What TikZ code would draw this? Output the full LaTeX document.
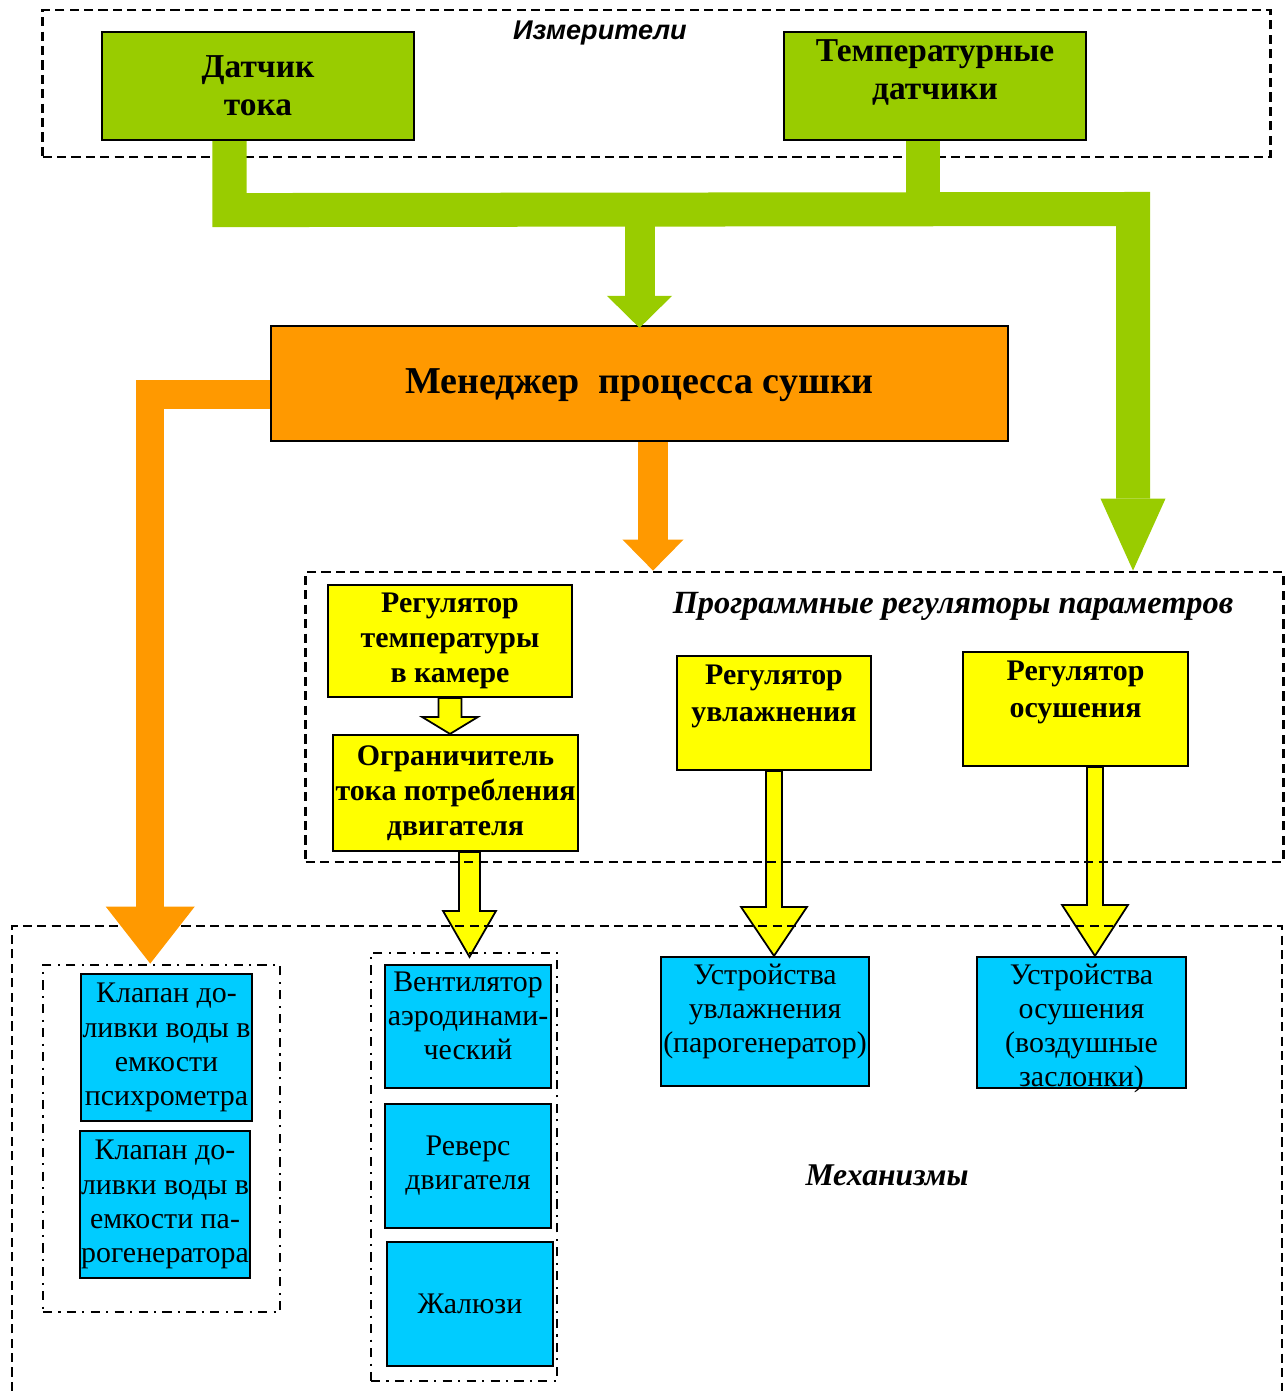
\documentclass[tikz,border=0pt]{standalone}
\usepackage{fontspec}
\setmainfont{Liberation Serif}
\setsansfont{Liberation Sans}
\usepackage{xcolor}
\usepackage{tikz}
\usetikzlibrary{arrows.meta}
\usetikzlibrary{calc}
\usetikzlibrary{backgrounds}
\definecolor{sensgreen}{HTML}{99CC00}
\definecolor{mgrorange}{HTML}{FF9900}
\definecolor{regyellow}{HTML}{FFFF00}
\definecolor{mechblue}{HTML}{00CCFF}
\tikzset{
    box/.style = {draw=black, line width=0.6pt, align=center, inner sep=0pt},
    green_box/.style = {box, fill=sensgreen, font=\fontsize{9.5}{10.8}\selectfont\bfseries},
    orange_box/.style = {box, fill=mgrorange, font=\fontsize{10.8}{13}\selectfont\bfseries},
    yellow_box/.style = {box, fill=regyellow, font=\fontsize{8.5}{10}\selectfont\bfseries},
    blue_box/.style = {box, fill=mechblue, font=\fontsize{8.5}{9.7}\selectfont},
    green_top/.style = {anchor=north, align=center, inner sep=2.4pt, font=\fontsize{9.5}{10.8}\selectfont\bfseries},
    yellow_top/.style = {anchor=north, align=center, inner sep=2.6pt, font=\fontsize{8.5}{10.6}\selectfont\bfseries},
    blue_top/.style = {anchor=north, align=center, inner sep=2pt, font=\fontsize{8.5}{9.7}\selectfont}
}
\tikzset{
    frame/.style = {draw=black, line width=0.75pt, dash pattern=on 2.6pt off 1.5pt, inner sep=0pt},
    dashdot_frame/.style = {draw=black, line width=0.75pt, dash pattern=on 2.6pt off 1.8pt on 0.6pt off 1.8pt, inner sep=0pt},
    meas_title/.style = {inner sep=0pt, font=\fontsize{7.7}{9}\selectfont\sffamily\bfseries\itshape},
    group_title/.style = {inner sep=0pt, font=\fontsize{9.2}{11}\selectfont\bfseries\itshape},
    green_flow/.style = {draw=sensgreen, line width=3.4mm, line join=miter},
    orange_flow/.style = {draw=mgrorange, line width=2.8mm, line join=miter},
    yellow_flow/.style = {draw=black, fill=regyellow, line width=0.5pt, line join=miter}
}
% block arrow pointing down: start, tip, stem half width, head half width, head length
\newcommand{\yarrow}[5]{%
    \draw[yellow_flow] let \p1=(#1), \p2=(#2) in
        (\x1-#3,\y1) -- (\x1-#3,\y2+#5) -- (\x1-#4,\y2+#5) -- (\x1,\y2)
        -- (\x1+#4,\y2+#5) -- (\x1+#3,\y2+#5) -- (\x1+#3,\y1) -- cycle;}

\begin{document}
\begin{tikzpicture}[x=0.01cm, y=-0.01cm]
    \useasboundingbox (0,0) rectangle (1286,1391);

    % frames
    \node[frame, minimum width=12.27cm, minimum height=1.47cm] (meas) at (656.5,83.5) {};
    \node[frame, minimum width=9.77cm, minimum height=2.90cm] (regs) at (794.5,717) {};
    \draw[frame] (12,1391) -- (12,926) -- (1282,926) -- (1282,1391);
    \node[dashdot_frame, minimum width=2.37cm, minimum height=3.47cm] (grpv) at (161.5,1138.5) {};
    \node[dashdot_frame, minimum width=1.86cm, minimum height=4.28cm] (grpf) at (464,1167) {};

    \node[meas_title] (meastitle) at (600,33) {Измерители};
    \node[group_title] (regstitle) at (953,606) {Программные регуляторы параметров};
    \node[group_title, font=\fontsize{9}{11}\selectfont\bfseries\itshape] (mechtitle) at (887,1175) {Механизмы};

    % sensors and manager
    \node[green_box, minimum width=3.12cm, minimum height=1.08cm] (cur) at (258,86) {Датчик\\тока};
    \node[green_box, minimum width=3.02cm, minimum height=1.08cm,
        label={[green_top]north:{Температурные\\датчики}}] (temp) at (935,86) {};
    \node[orange_box, minimum width=7.37cm, minimum height=1.15cm, text depth=1.5pt] (mgr) at (639.5,383.5) {Менеджер\ \ процесса сушки};

    % regulators
    \node[yellow_box, minimum width=2.44cm, minimum height=1.12cm] (rtemp) at (450,641) {Регулятор\\температуры\\в камере};
    \node[yellow_box, minimum width=2.45cm, minimum height=1.16cm] (lim) at (455.5,793) {Ограничитель\\тока потребления\\двигателя};
    \node[yellow_box, minimum width=1.94cm, minimum height=1.14cm,
        label={[yellow_top]north:{Регулятор\\увлажнения}}] (rhum) at (774,713) {};
    \node[yellow_box, minimum width=2.25cm, minimum height=1.14cm,
        label={[yellow_top]north:{Регулятор\\осушения}}] (rdry) at (1075.5,709) {};

    % mechanisms
    \node[blue_box, minimum width=1.71cm, minimum height=1.47cm] (vpsy) at (166.5,1047.5) {Клапан до-\\ливки воды в\\емкости\\психрометра};
    \node[blue_box, minimum width=1.70cm, minimum height=1.47cm] (vpar) at (165,1204.5) {Клапан до-\\ливки воды в\\емкости па-\\рогенератора};
    \node[blue_box, minimum width=1.66cm, minimum height=1.23cm,
        label={[blue_top]north:{Вентилятор\\аэродинами-\\ческий}}] (fan) at (468,1026.5) {};
    \node[blue_box, minimum width=1.66cm, minimum height=1.24cm] (rev) at (468,1166) {Реверс\\двигателя};
    \node[blue_box, minimum width=1.66cm, minimum height=1.24cm] (blind) at (470,1304) {Жалюзи};
    \node[blue_box, minimum width=2.08cm, minimum height=1.29cm,
        label={[blue_top]north:{Устройства\\увлажнения\\(парогенератор)}}] (dhum) at (765,1021.5) {};
    \node[blue_box, minimum width=2.09cm, minimum height=1.31cm,
        label={[blue_top]north:{Устройства\\осушения\\(воздушные\\заслонки)}}] (ddry) at (1081.5,1022.5) {};

    % yellow arrows
    \begin{scope}[on background layer]
        \yarrow{rtemp.south}{lim.north}{1.15mm}{2.8mm}{1.7mm}
        \yarrow{$(lim.south)+(14,0)$}{$(fan.north)+(0,-7)$}{1.05mm}{2.65mm}{4.6mm}
        \yarrow{rhum.south}{dhum.north}{0.8mm}{3.3mm}{4.9mm}
        \yarrow{$(rdry.south)+(19.5,0)$}{ddry.north}{0.8mm}{3.3mm}{5.1mm}
    \end{scope}

    % green bus
    \coordinate (gstart) at ($(cur.south)+(-28.5,0)$);
    \coordinate (gbendL) at ($(cur.south)+(-28.5,69)$);
    \coordinate (gbendR) at (1133,209);
    \coordinate (tstem) at ($(temp.south)+(-12.5,0)$);
    \draw[green_flow, -{Triangle[width=6.5mm, length=7.2mm, line width=0pt]}]
        (gstart) -- (gbendL) -- (gbendR) -- (gbendR |- regs.north);
    \draw[green_flow] (tstem) -- (tstem |- gbendR);
    \draw[green_flow, line width=3mm, -{Triangle[width=6.5mm, length=3.2mm, line width=0pt]}]
        (mgr.north |- gbendL) -- ($(mgr.north)+(0,3)$);

    % orange arrows
    \coordinate (obend) at ($(mgr.west)+(-119.5,11)$);
    \coordinate (ostem) at ($(mgr.south)+(13.5,0)$);
    \draw[orange_flow, -{Triangle[width=8.9mm, length=5.7mm, line width=0pt]}]
        ($(mgr.west)+(0,11)$) -- (obend) -- (obend |- grpv.north);
    \draw[orange_flow, line width=3mm, -{Triangle[width=6.1mm, length=3.1mm, line width=0pt]}]
        (ostem) -- (ostem |- regs.north);
\end{tikzpicture}
\end{document}
